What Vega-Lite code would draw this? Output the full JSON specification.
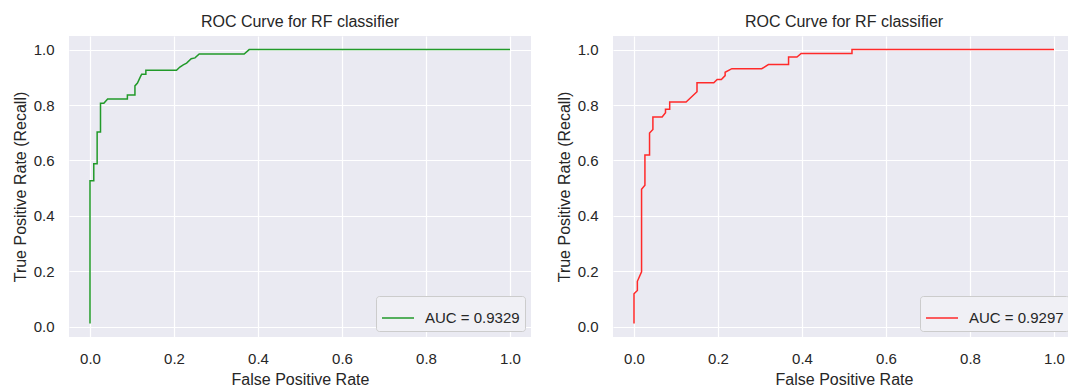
{
  "$schema": "https://vega.github.io/schema/vega-lite/v6.json",
  "padding": {"left": 12, "top": 14, "right": 0, "bottom": 0},
  "spacing": 25,
  "background": "white",
  "config": {
    "font": "Liberation Sans",
    "view": {"fill": "#eaeaf2", "stroke": null},
    "axis": {
      "domain": false, "ticks": false, "grid": true, "gridColor": "#ffffff", "gridWidth": 1.2,
      "labelFontSize": 15, "labelColor": "#262626", "titleFontSize": 16, "titleColor": "#262626",
      "titleFontWeight": "normal", "labelPadding": 14, "titlePadding": 5
    },
    "axisY": {"labelPadding": 15},
    "title": {"fontSize": 16, "fontWeight": "normal", "color": "#262626", "offset": 6},
    "legend": {
      "orient": "bottom-right", "offset": 6, "fillColor": "#f0f0f5", "strokeColor": "#cccccc",
      "cornerRadius": 3, "padding": 5, "labelFontSize": 15, "labelColor": "#262626",
      "symbolType": "stroke", "symbolSize": 1024, "symbolStrokeWidth": 1.5, "labelOffset": 10, "title": null
    }
  },
  "resolve": {"scale": {"color": "independent"}, "legend": {"color": "independent"}},
  "hconcat": [
    {
      "title": "ROC Curve for RF classifier",
      "width": 462, "height": 301,
      "data": {"values": [
        {"i": 0, "fpr": 0, "tpr": 0.012, "label": "AUC = 0.9329"},
        {"i": 1, "fpr": 0, "tpr": 0.527, "label": "AUC = 0.9329"},
        {"i": 2, "fpr": 0.009, "tpr": 0.527, "label": "AUC = 0.9329"},
        {"i": 3, "fpr": 0.009, "tpr": 0.588, "label": "AUC = 0.9329"},
        {"i": 4, "fpr": 0.017, "tpr": 0.588, "label": "AUC = 0.9329"},
        {"i": 5, "fpr": 0.017, "tpr": 0.703, "label": "AUC = 0.9329"},
        {"i": 6, "fpr": 0.025, "tpr": 0.703, "label": "AUC = 0.9329"},
        {"i": 7, "fpr": 0.025, "tpr": 0.806, "label": "AUC = 0.9329"},
        {"i": 8, "fpr": 0.033, "tpr": 0.806, "label": "AUC = 0.9329"},
        {"i": 9, "fpr": 0.042, "tpr": 0.822, "label": "AUC = 0.9329"},
        {"i": 10, "fpr": 0.089, "tpr": 0.822, "label": "AUC = 0.9329"},
        {"i": 11, "fpr": 0.089, "tpr": 0.836, "label": "AUC = 0.9329"},
        {"i": 12, "fpr": 0.107, "tpr": 0.836, "label": "AUC = 0.9329"},
        {"i": 13, "fpr": 0.107, "tpr": 0.869, "label": "AUC = 0.9329"},
        {"i": 14, "fpr": 0.113, "tpr": 0.879, "label": "AUC = 0.9329"},
        {"i": 15, "fpr": 0.119, "tpr": 0.899, "label": "AUC = 0.9329"},
        {"i": 16, "fpr": 0.123, "tpr": 0.911, "label": "AUC = 0.9329"},
        {"i": 17, "fpr": 0.133, "tpr": 0.911, "label": "AUC = 0.9329"},
        {"i": 18, "fpr": 0.133, "tpr": 0.925, "label": "AUC = 0.9329"},
        {"i": 19, "fpr": 0.206, "tpr": 0.925, "label": "AUC = 0.9329"},
        {"i": 20, "fpr": 0.214, "tpr": 0.937, "label": "AUC = 0.9329"},
        {"i": 21, "fpr": 0.222, "tpr": 0.945, "label": "AUC = 0.9329"},
        {"i": 22, "fpr": 0.23, "tpr": 0.951, "label": "AUC = 0.9329"},
        {"i": 23, "fpr": 0.241, "tpr": 0.967, "label": "AUC = 0.9329"},
        {"i": 24, "fpr": 0.25, "tpr": 0.97, "label": "AUC = 0.9329"},
        {"i": 25, "fpr": 0.26, "tpr": 0.984, "label": "AUC = 0.9329"},
        {"i": 26, "fpr": 0.367, "tpr": 0.984, "label": "AUC = 0.9329"},
        {"i": 27, "fpr": 0.379, "tpr": 1.0, "label": "AUC = 0.9329"},
        {"i": 28, "fpr": 1.0, "tpr": 1.0, "label": "AUC = 0.9329"}
      ]},
      "mark": {"type": "line", "strokeWidth": 1.5},
      "encoding": {
        "x": {"field": "fpr", "type": "quantitative", "title": "False Positive Rate",
              "scale": {"domain": [-0.05, 1.05], "nice": false, "zero": false},
              "axis": {"values": [0, 0.2, 0.4, 0.6, 0.8, 1.0], "format": ".1f"}},
        "y": {"field": "tpr", "type": "quantitative", "title": "True Positive Rate (Recall)",
              "scale": {"domain": [-0.037, 1.049], "nice": false, "zero": false},
              "axis": {"values": [0, 0.2, 0.4, 0.6, 0.8, 1.0], "format": ".1f"}},
        "order": {"field": "i", "type": "quantitative"},
        "color": {"field": "label", "type": "nominal", "scale": {"range": ["#229a2a"]}}
      }
    },
    {
      "title": "ROC Curve for RF classifier",
      "width": 462, "height": 301,
      "data": {"values": [
        {"i": 0, "fpr": 0, "tpr": 0.012, "label": "AUC = 0.9297"},
        {"i": 1, "fpr": 0, "tpr": 0.119, "label": "AUC = 0.9297"},
        {"i": 2, "fpr": 0.008, "tpr": 0.131, "label": "AUC = 0.9297"},
        {"i": 3, "fpr": 0.008, "tpr": 0.164, "label": "AUC = 0.9297"},
        {"i": 4, "fpr": 0.018, "tpr": 0.198, "label": "AUC = 0.9297"},
        {"i": 5, "fpr": 0.018, "tpr": 0.496, "label": "AUC = 0.9297"},
        {"i": 6, "fpr": 0.026, "tpr": 0.511, "label": "AUC = 0.9297"},
        {"i": 7, "fpr": 0.026, "tpr": 0.62, "label": "AUC = 0.9297"},
        {"i": 8, "fpr": 0.037, "tpr": 0.62, "label": "AUC = 0.9297"},
        {"i": 9, "fpr": 0.037, "tpr": 0.699, "label": "AUC = 0.9297"},
        {"i": 10, "fpr": 0.045, "tpr": 0.712, "label": "AUC = 0.9297"},
        {"i": 11, "fpr": 0.045, "tpr": 0.757, "label": "AUC = 0.9297"},
        {"i": 12, "fpr": 0.067, "tpr": 0.757, "label": "AUC = 0.9297"},
        {"i": 13, "fpr": 0.075, "tpr": 0.772, "label": "AUC = 0.9297"},
        {"i": 14, "fpr": 0.075, "tpr": 0.785, "label": "AUC = 0.9297"},
        {"i": 15, "fpr": 0.085, "tpr": 0.785, "label": "AUC = 0.9297"},
        {"i": 16, "fpr": 0.085, "tpr": 0.811, "label": "AUC = 0.9297"},
        {"i": 17, "fpr": 0.124, "tpr": 0.811, "label": "AUC = 0.9297"},
        {"i": 18, "fpr": 0.15, "tpr": 0.848, "label": "AUC = 0.9297"},
        {"i": 19, "fpr": 0.15, "tpr": 0.88, "label": "AUC = 0.9297"},
        {"i": 20, "fpr": 0.19, "tpr": 0.88, "label": "AUC = 0.9297"},
        {"i": 21, "fpr": 0.198, "tpr": 0.892, "label": "AUC = 0.9297"},
        {"i": 22, "fpr": 0.208, "tpr": 0.892, "label": "AUC = 0.9297"},
        {"i": 23, "fpr": 0.217, "tpr": 0.906, "label": "AUC = 0.9297"},
        {"i": 24, "fpr": 0.217, "tpr": 0.918, "label": "AUC = 0.9297"},
        {"i": 25, "fpr": 0.233, "tpr": 0.931, "label": "AUC = 0.9297"},
        {"i": 26, "fpr": 0.304, "tpr": 0.931, "label": "AUC = 0.9297"},
        {"i": 27, "fpr": 0.32, "tpr": 0.946, "label": "AUC = 0.9297"},
        {"i": 28, "fpr": 0.368, "tpr": 0.946, "label": "AUC = 0.9297"},
        {"i": 29, "fpr": 0.368, "tpr": 0.973, "label": "AUC = 0.9297"},
        {"i": 30, "fpr": 0.388, "tpr": 0.973, "label": "AUC = 0.9297"},
        {"i": 31, "fpr": 0.398, "tpr": 0.986, "label": "AUC = 0.9297"},
        {"i": 32, "fpr": 0.519, "tpr": 0.986, "label": "AUC = 0.9297"},
        {"i": 33, "fpr": 0.519, "tpr": 1.0, "label": "AUC = 0.9297"},
        {"i": 34, "fpr": 1.0, "tpr": 1.0, "label": "AUC = 0.9297"}
      ]},
      "mark": {"type": "line", "strokeWidth": 1.5},
      "encoding": {
        "x": {"field": "fpr", "type": "quantitative", "title": "False Positive Rate",
              "scale": {"domain": [-0.05, 1.05], "nice": false, "zero": false},
              "axis": {"values": [0, 0.2, 0.4, 0.6, 0.8, 1.0], "format": ".1f"}},
        "y": {"field": "tpr", "type": "quantitative", "title": "True Positive Rate (Recall)",
              "scale": {"domain": [-0.037, 1.049], "nice": false, "zero": false},
              "axis": {"values": [0, 0.2, 0.4, 0.6, 0.8, 1.0], "format": ".1f"}},
        "order": {"field": "i", "type": "quantitative"},
        "color": {"field": "label", "type": "nominal", "scale": {"range": ["#ff2a2a"]}}
      }
    }
  ]
}
